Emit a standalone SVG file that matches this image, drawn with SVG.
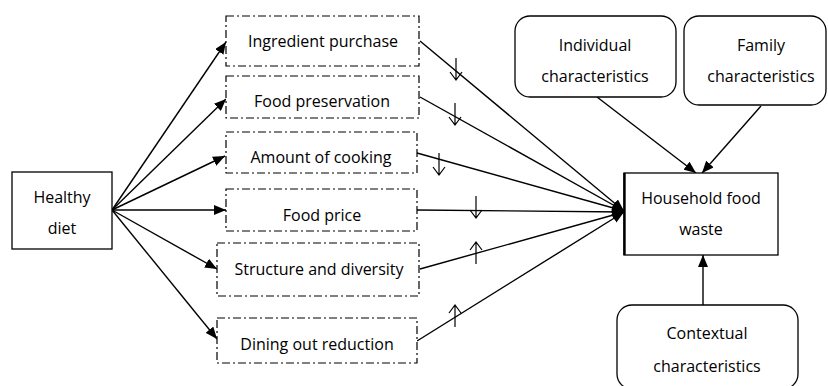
<svg xmlns="http://www.w3.org/2000/svg" width="828" height="386" viewBox="0 0 828 386">
  <defs>
    <marker id="tip" viewBox="0 0 12 10" refX="12" refY="5" markerWidth="12" markerHeight="10" markerUnits="userSpaceOnUse" orient="auto">
      <path d="M0,0 L12,5 L0,10 Z" fill="#000"/>
    </marker>
    <!-- small open arrow showing the direction of an effect -->
    <path id="down" d="M0,-11 V11 M-6,3 L0,11 L6,3" fill="none" stroke="#000" stroke-width="1.2"/>
    <path id="up" d="M0,11 V-11 M-6,-3 L0,-11 L6,-3" fill="none" stroke="#000" stroke-width="1.2"/>
    <style>
      .lbl { font-family: "Open Sans", "Liberation Sans", sans-serif; font-size: 16px; fill: #000; text-anchor: middle; }
      .solid { fill: #fff; stroke: #000; stroke-width: 1.3; }
      .dash { fill: #fff; stroke: #000; stroke-width: 1.2; stroke-dasharray: 8 3 2 3; }
      .round { fill: #fff; stroke: #000; stroke-width: 1.3; }
      .edge { fill: none; stroke: #000; stroke-width: 1.4; marker-end: url(#tip); }
    </style>
  </defs>
  <rect width="828" height="386" fill="#fff"/>

  <!-- connectors -->
  <g id="connectors">
    <!-- healthy diet to mediators -->
    <line class="edge" x1="112" y1="210" x2="226" y2="42"/>
    <line class="edge" x1="112" y1="210" x2="226" y2="99"/>
    <line class="edge" x1="112" y1="210" x2="225" y2="156"/>
    <line class="edge" x1="112" y1="210" x2="226" y2="210"/>
    <line class="edge" x1="112" y1="210" x2="217" y2="269"/>
    <line class="edge" x1="112" y1="210" x2="217" y2="339"/>
    <!-- mediators to household food waste -->
    <line class="edge" x1="420" y1="41" x2="624" y2="211"/>
    <line class="edge" x1="420" y1="97" x2="624" y2="211"/>
    <line class="edge" x1="417" y1="153" x2="624" y2="211"/>
    <line class="edge" x1="417" y1="210" x2="624" y2="212"/>
    <line class="edge" x1="420" y1="269" x2="624" y2="212"/>
    <line class="edge" x1="417" y1="341" x2="624" y2="212"/>
    <!-- characteristics to household food waste -->
    <line class="edge" x1="597" y1="97" x2="696" y2="173"/>
    <line class="edge" x1="761" y1="106" x2="702" y2="173"/>
    <line class="edge" x1="703" y1="305" x2="703" y2="255"/>
    <!-- direction of effect -->
    <use href="#down" x="456" y="69"/>
    <use href="#down" x="455" y="114"/>
    <use href="#down" x="439" y="164"/>
    <use href="#down" x="476" y="207"/>
    <use href="#up" x="476" y="253"/>
    <use href="#up" x="455" y="316"/>
  </g>

  <g id="healthy-diet">
    <rect class="solid" x="12" y="172" width="100" height="77"/>
    <text class="lbl" x="62" y="203">Healthy</text>
    <text class="lbl" x="62" y="234">diet</text>
  </g>

  <g id="ingredient-purchase">
    <rect class="dash" x="226" y="16" width="193" height="50"/>
    <text class="lbl" x="323" y="47">Ingredient purchase</text>
  </g>
  <g id="food-preservation">
    <rect class="dash" x="226" y="76" width="193" height="42"/>
    <text class="lbl" x="322" y="107">Food preservation</text>
  </g>
  <g id="amount-of-cooking">
    <rect class="dash" x="226" y="132" width="191" height="41"/>
    <text class="lbl" x="321" y="163">Amount of cooking</text>
  </g>
  <g id="food-price">
    <rect class="dash" x="226" y="189" width="191" height="42"/>
    <text class="lbl" x="322" y="221">Food price</text>
  </g>
  <g id="structure-diversity">
    <rect class="dash" x="217" y="243" width="202" height="53"/>
    <text class="lbl" x="319" y="275">Structure and diversity</text>
  </g>
  <g id="dining-out-reduction">
    <rect class="dash" x="217" y="318" width="200" height="45"/>
    <text class="lbl" x="317" y="350">Dining out reduction</text>
  </g>

  <g id="individual-characteristics">
    <rect class="round" x="515" y="16" width="161" height="81" rx="15"/>
    <text class="lbl" x="595" y="51">Individual</text>
    <text class="lbl" x="595" y="82">characteristics</text>
  </g>
  <g id="family-characteristics">
    <rect class="round" x="684" y="16" width="142" height="89" rx="15"/>
    <text class="lbl" x="761" y="51">Family</text>
    <text class="lbl" x="761" y="82">characteristics</text>
  </g>

  <g id="household-food-waste">
    <rect class="solid" x="624" y="173" width="154" height="82"/>
    <line x1="624.5" y1="173" x2="624.5" y2="255" stroke="#000" stroke-width="2.4"/>
    <text class="lbl" x="701" y="204">Household food</text>
    <text class="lbl" x="701" y="235">waste</text>
  </g>

  <g id="contextual-characteristics">
    <rect class="round" x="617" y="305" width="181" height="84" rx="15"/>
    <text class="lbl" x="707" y="339">Contextual</text>
    <text class="lbl" x="707" y="372">characteristics</text>
  </g>
</svg>
